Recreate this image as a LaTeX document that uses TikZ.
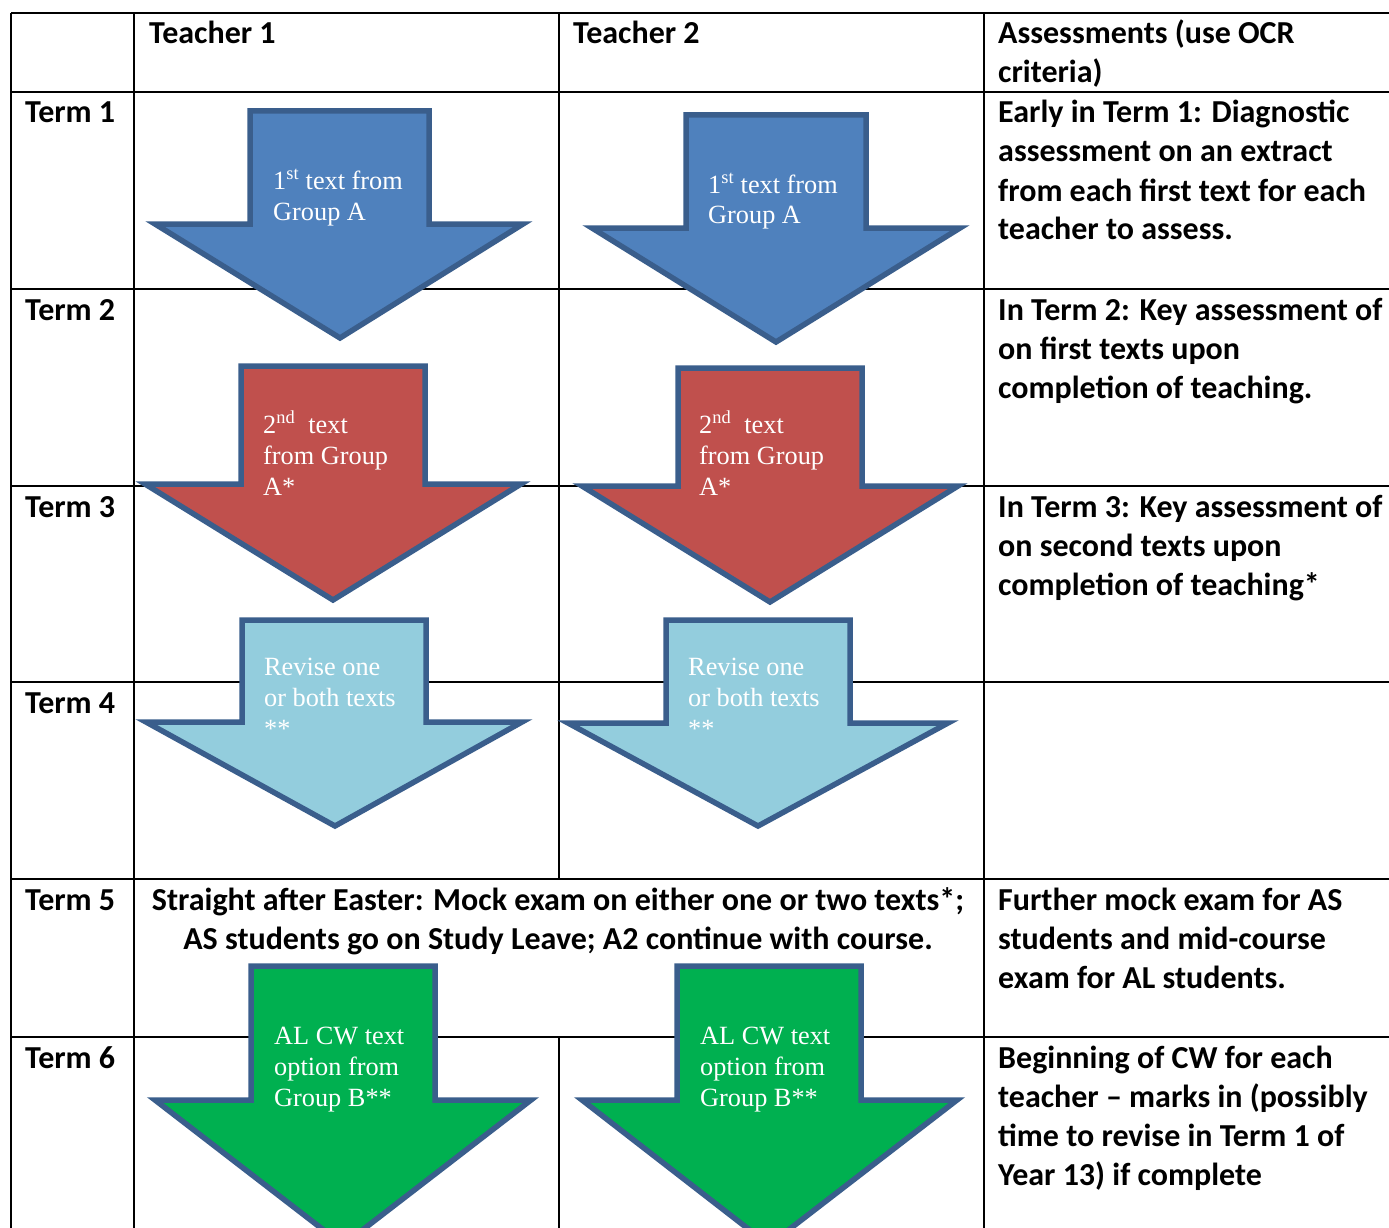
\documentclass[tikz,border=0pt]{standalone}
\usepackage{fontspec}
\setmainfont{Liberation Serif}
\newfontfamily\calfont{Carlito}
\definecolor{tblue}{HTML}{4F81BD}
\definecolor{tred}{HTML}{C0504D}
\definecolor{tlblue}{HTML}{93CDDD}
\definecolor{tgreen}{HTML}{00B050}
\definecolor{tedge}{HTML}{3A5E8C}
\newcommand\blockarr[9]{\draw[#1] (#2,#4) -- (#3,#4) -- (#3,#5) -- (#7,#5) -- (#8,#9) -- (#6,#5) -- (#2,#5) -- cycle;}
\tikzset{
  tline/.style={line width=2.5pt, black},
  arr/.style={draw=tedge, line width=5.5pt, line join=miter},
  lbl/.style={font=\calfont\bfseries\fontsize{32}{39}\selectfont, anchor=base west, inner sep=0pt},
  atxt/.style={font=\fontsize{26.3}{31}\selectfont, text=white, anchor=base west, inner sep=0pt}
}
\begin{document}
\begin{tikzpicture}[x=1pt,y=-1pt]
\fill[white] (0,0) rectangle (1389,1228);
\useasboundingbox (0,0) rectangle (1389,1228);
% table grid
\foreach \yy in {13,92,289,486,682,879,1037} \draw[tline] (11,\yy) -- (1389,\yy);
\foreach \xx in {11,134,984} \draw[tline] (\xx,13) -- (\xx,1228);
\draw[tline] (559,13) -- (559,879);
\draw[tline] (559,1037) -- (559,1228);
% arrows
\blockarr{arr,fill=tblue}{250}{429}{111}{224}{155}{523}{340}{338}
\blockarr{arr,fill=tblue}{686}{866}{115}{228}{592}{960}{776}{342}
\blockarr{arr,fill=tred}{241}{425}{366}{484}{145}{521}{333}{600}
\blockarr{arr,fill=tred}{678}{862}{368}{486}{582}{958}{770}{602}
\blockarr{arr,fill=tlblue}{242}{426}{620}{722}{146}{522}{335}{826}
\blockarr{arr,fill=tlblue}{666}{850}{620}{723}{568}{948}{758}{826}
\blockarr{arr,fill=tgreen}{251}{435}{966}{1100}{155}{531}{343}{1245}
\blockarr{arr,fill=tgreen}{677}{861}{966}{1100}{582}{957}{769}{1245}
% header
\node[lbl] (h1) at (149,44) {Teacher 1};
\node[lbl] (h2) at (573,44) {Teacher 2};
\node[lbl] (h3) at (998,44) {\parbox[t]{390pt}{\raggedright Assessments (use OCR\\criteria)}};
% term labels
\node[lbl] (t1) at (25,123) {Term 1};
\node[lbl] (t2) at (25,320) {Term 2};
\node[lbl] (t3) at (25,517) {Term 3};
\node[lbl] (t4) at (25,713) {Term 4};
\node[lbl] (t5) at (25,910) {Term 5};
\node[lbl] (t6) at (25,1068) {Term 6};
% assessments
\node[lbl] (a1) at (998,123) {\parbox[t]{390pt}{\raggedright Early in Term 1: Diagnostic\\assessment on an extract\\from each first text for each\\teacher to assess.}};
\node[lbl] (a2) at (998,320) {\parbox[t]{390pt}{\raggedright In Term 2: Key assessment of\\on first texts upon\\completion of teaching.}};
\node[lbl] (a3) at (998,517) {\parbox[t]{390pt}{\raggedright In Term 3: Key assessment of\\on second texts upon\\completion of teaching*}};
\node[lbl] (a5) at (998,910) {\parbox[t]{390pt}{\raggedright Further mock exam for AS\\students and mid-course\\exam for AL students.}};
\node[lbl] (a6) at (998,1068) {\parbox[t]{390pt}{\raggedright Beginning of CW for each\\teacher – marks in (possibly\\time to revise in Term 1 of\\Year 13) if complete}};
% merged term 5 text
\node[lbl,anchor=base] (m5) at (558,910) {\parbox[t]{850pt}{\centering Straight after Easter: Mock exam on either one or two texts*;\\AS students go on Study Leave; A2 continue with course.}};
% arrow texts
\node[atxt] (b1) at (273,189) {\parbox[t]{200pt}{\raggedright 1\textsuperscript{st} text from\\Group A}};
\node[atxt] (b2) at (708,193) {\parbox[t]{200pt}{\raggedright 1\textsuperscript{st} text from\\Group A}};
\node[atxt] (r1) at (263,433) {\parbox[t]{200pt}{\raggedright 2\textsuperscript{nd}\ \ text\\from Group\\{}A*}};
\node[atxt] (r2) at (699,433) {\parbox[t]{200pt}{\raggedright 2\textsuperscript{nd}\ \ text\\from Group\\{}A*}};
\node[atxt] (l1) at (264,675) {\parbox[t]{200pt}{\raggedright Revise one\\or both texts\\{}**}};
\node[atxt] (l2) at (688,675) {\parbox[t]{200pt}{\raggedright Revise one\\or both texts\\{}**}};
\node[atxt] (g1) at (274,1044) {\parbox[t]{200pt}{\raggedright AL CW text\\option from\\Group B**}};
\node[atxt] (g2) at (700,1044) {\parbox[t]{200pt}{\raggedright AL CW text\\option from\\Group B**}};
\end{tikzpicture}
\end{document}
